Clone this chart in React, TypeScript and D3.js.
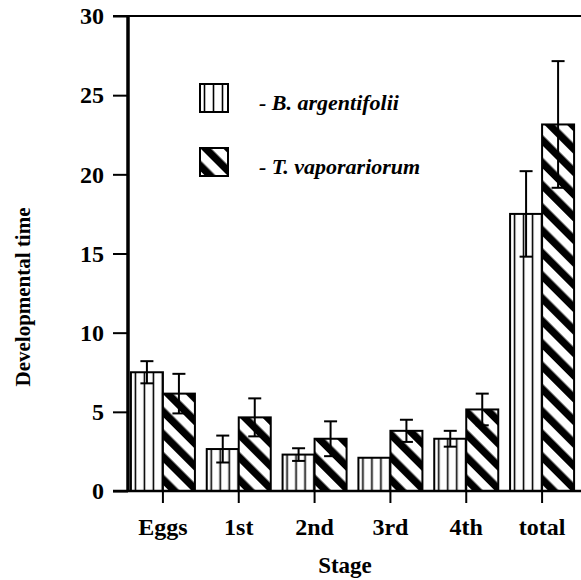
import * as d3 from "d3";
import { useEffect, useRef } from "react";

const stages = ["Eggs", "1st", "2nd", "3rd", "4th", "total"];
const species = ["B. argentifolii", "T. vaporariorum"];
// mean developmental time
const bArgentifolii = [7.5, 2.65, 2.3, 2.1, 3.3, 17.5];
const bArgentifoliiErr = [0.7, 0.85, 0.4, 0, 0.5, 2.7];
const tVaporariorum = [6.15, 4.65, 3.3, 3.8, 5.15, 23.15];
const tVaporariorumErr = [1.25, 1.2, 1.1, 0.7, 1.0, 4.0];
const yTicks = [0, 5, 10, 15, 20, 25, 30];

export default function App() {
    const svgRef = useRef<SVGSVGElement | null>(null);
    const width = 581;
    const height = 580;

    useEffect(() => {
        document.body.style.margin = "0";

        const svg = d3.select(svgRef.current)
            .attr("width", width)
            .attr("height", height)
            .style("display", "block")
            .style("font-family", "'Liberation Serif', 'Times New Roman', serif");

        svg.selectAll("*").remove();

        const defs = svg.append("defs");

        // vertical lines fill
        const vl = defs.append("pattern")
            .attr("id", "vlines")
            .attr("patternUnits", "userSpaceOnUse")
            .attr("width", 9)
            .attr("height", 10);
        vl.append("rect").attr("width", 9).attr("height", 10).attr("fill", "white");
        vl.append("line")
            .attr("x1", 4.5).attr("x2", 4.5)
            .attr("y1", 0).attr("y2", 10)
            .attr("stroke", "black").attr("stroke-width", 1.6);

        // diagonal stripes fill "\"
        const dg = defs.append("pattern")
            .attr("id", "diag")
            .attr("patternUnits", "userSpaceOnUse")
            .attr("width", 16)
            .attr("height", 16)
            .attr("patternTransform", "rotate(-45)");
        dg.append("rect").attr("width", 16).attr("height", 16).attr("fill", "white");
        dg.append("rect").attr("width", 7.5).attr("height", 16).attr("fill", "black");

        const fills = ["url(#vlines)", "url(#diag)"];

        const x = d3.scaleBand<string>()
            .domain(stages)
            .range([125, 580])
            .paddingInner(0.156)
            .paddingOuter(0.078);

        const xSub = d3.scaleBand<string>()
            .domain(species)
            .range([0, x.bandwidth()]);

        const y = d3.scaleLinear()
            .domain([0, 30])
            .range([491, 16]);

        const rows = stages.map((s, i) => ({
            stage: s,
            values: [
                { sp: species[0], v: bArgentifolii[i], e: bArgentifoliiErr[i], k: 0 },
                { sp: species[1], v: tVaporariorum[i], e: tVaporariorumErr[i], k: 1 },
            ],
        }));

        // frame top line
        svg.append("line")
            .attr("x1", 113).attr("x2", width)
            .attr("y1", y(30)).attr("y2", y(30))
            .attr("stroke", "black").attr("stroke-width", 2);

        const groups = svg.append("g")
            .selectAll("g")
            .data(rows)
            .join("g")
            .attr("transform", d => `translate(${x(d.stage)},0)`);

        groups.selectAll("rect")
            .data(d => d.values)
            .join("rect")
            .attr("x", d => xSub(d.sp)!)
            .attr("y", d => y(d.v))
            .attr("width", xSub.bandwidth())
            .attr("height", d => y(0) - y(d.v))
            .attr("fill", d => fills[d.k])
            .attr("stroke", "black")
            .attr("stroke-width", 2);

        const err = groups.selectAll("g.err")
            .data(d => d.values.filter(v => v.e > 0))
            .join("g")
            .attr("class", "err")
            .attr("stroke", "black")
            .attr("stroke-width", 2);
        const cx = (d: any) => xSub(d.sp)! + xSub.bandwidth() / 2;
        err.append("line")
            .attr("x1", cx).attr("x2", cx)
            .attr("y1", d => y(d.v - d.e)).attr("y2", d => y(d.v + d.e));
        err.append("line")
            .attr("x1", d => cx(d) - 6.5).attr("x2", d => cx(d) + 6.5)
            .attr("y1", d => y(d.v + d.e)).attr("y2", d => y(d.v + d.e));
        err.append("line")
            .attr("x1", d => cx(d) - 6.5).attr("x2", d => cx(d) + 6.5)
            .attr("y1", d => y(d.v - d.e)).attr("y2", d => y(d.v - d.e));

        // baseline
        svg.append("line")
            .attr("x1", 113).attr("x2", width)
            .attr("y1", y(0)).attr("y2", y(0))
            .attr("stroke", "black").attr("stroke-width", 2.5);

        // y axis
        const yAxis = svg.append("g")
            .attr("transform", "translate(128,0)")
            .call(d3.axisLeft(y).tickValues(yTicks).tickSize(15).tickPadding(9).tickFormat(d3.format("d")));
        yAxis.select(".domain").remove();
        yAxis.selectAll(".tick line").attr("stroke-width", 2);
        yAxis.selectAll("text")
            .attr("font-family", "'Liberation Serif', serif")
            .attr("font-size", 24)
            .attr("font-weight", "bold")
            .attr("fill", "black");
        svg.append("line")
            .attr("x1", 128).attr("x2", 128)
            .attr("y1", y(30) - 1).attr("y2", y(0) + 1)
            .attr("stroke", "black").attr("stroke-width", 3.5);

        // x axis ticks + labels
        const xAxis = svg.append("g")
            .selectAll("g")
            .data(stages)
            .join("g")
            .attr("transform", d => `translate(${x(d)! + x.bandwidth() / 2},${y(0)})`);
        xAxis.append("line")
            .attr("y1", 0).attr("y2", 12)
            .attr("stroke", "black").attr("stroke-width", 2);
        xAxis.append("text")
            .attr("y", 44)
            .attr("text-anchor", "middle")
            .attr("font-size", 24)
            .attr("font-weight", "bold")
            .text(d => d);

        svg.append("text")
            .attr("x", 345)
            .attr("y", 573)
            .attr("text-anchor", "middle")
            .attr("font-size", 23)
            .attr("font-weight", "bold")
            .text("Stage");

        svg.append("text")
            .attr("transform", "translate(30,297) rotate(-90)")
            .attr("text-anchor", "middle")
            .attr("font-size", 21)
            .attr("font-weight", "bold")
            .text("Developmental time");

        // legend
        const legend = svg.append("g")
            .selectAll("g")
            .data(species)
            .join("g")
            .attr("transform", (d, i) => `translate(200,${84 + i * 64})`);
        legend.append("rect")
            .attr("width", 28).attr("height", 28)
            .attr("fill", (d, i) => fills[i])
            .attr("stroke", "black").attr("stroke-width", 2);
        legend.append("text")
            .attr("x", 59)
            .attr("y", 26)
            .attr("font-size", 22)
            .attr("font-weight", "bold")
            .attr("font-style", "italic")
            .text(d => "- " + d);
    }, []);

    return <svg ref={svgRef} />;
}
